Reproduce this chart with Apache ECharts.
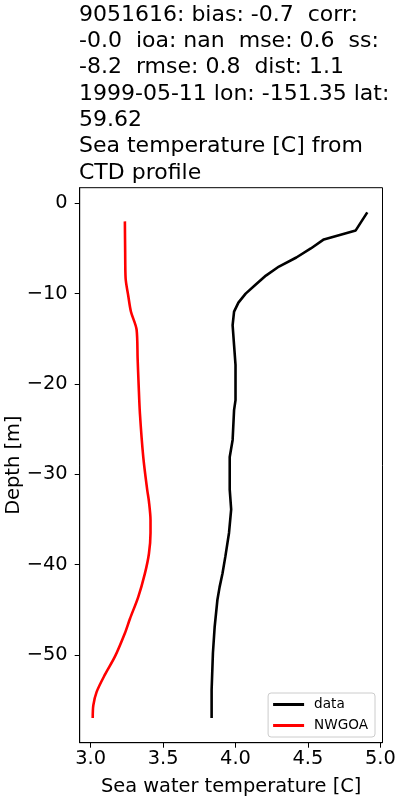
<!DOCTYPE html>
<html>
<head>
<meta charset="utf-8">
<script src="https://cdn.jsdelivr.net/npm/echarts@6/dist/echarts.min.js"></script>
<style>
html,body{margin:0;padding:0;background:#fff;}
#chart{width:400px;height:800px;}
</style>
</head>
<body>
<div id="chart"></div>
<script>
// Observed CTD profile ("data")
var dataDepth = [-1, -3, -4, -5, -6, -7, -8, -9, -10, -11, -12, -13.5, -15.7, -17.9, -20, -21.8, -22.9, -26.2, -28.1, -31.7, -33.9, -36.5, -39.1, -41, -42.5, -43.9, -46.9, -49.8, -53.9, -57];
var dataTemp  = [4.91, 4.83, 4.61, 4.52, 4.42, 4.30, 4.21, 4.14, 4.07, 4.02, 3.99, 3.98, 3.99, 4.00, 4.00, 4.00, 3.99, 3.98, 3.96, 3.96, 3.97, 3.955, 3.93, 3.91, 3.89, 3.875, 3.856, 3.844, 3.835, 3.835];
// Model profile ("NWGOA")
var modelDepth = [-2, -5.4, -8.3, -10.2, -12, -14, -17.2, -20.1, -23.3, -28.1, -31.7, -33, -35.1, -36.5, -38.8, -41, -43.6, -46, -47.6, -50.2, -52.2, -54.1, -55.6, -57];
var modelTemp  = [3.236, 3.238, 3.241, 3.259, 3.278, 3.317, 3.324, 3.331, 3.34, 3.363, 3.39, 3.402, 3.413, 3.413, 3.402, 3.374, 3.328, 3.271, 3.236, 3.167, 3.098, 3.041, 3.018, 3.014];

var xTicks = [3.0, 3.5, 4.0, 4.5, 5.0];
var yTicks = [0, -10, -20, -30, -40, -50];

var titleLines = [
  "9051616: bias: -0.7  corr:",
  "-0.0  ioa: nan  mse: 0.6  ss:",
  "-8.2  rmse: 0.8  dist: 1.1",
  "1999-05-11 lon: -151.35 lat:",
  "59.62",
  "Sea temperature [C] from",
  "CTD profile"
];

function pairs(xs, ys){ return xs.map(function(x,i){ return [x, ys[i]]; }); }
var FONT = "DejaVu Sans";

var chart = echarts.init(document.getElementById('chart'), null, {renderer:'canvas'});
chart.setOption({
  animation: false,
  backgroundColor: '#fff',
  textStyle: {fontFamily: FONT},
  title: {
    text: titleLines.join('\n'),
    left: 79, top: 2, padding: 0,
    textStyle: {fontFamily: FONT, fontSize: 22, fontWeight: 'normal', color: '#000', lineHeight: 26.3}
  },
  grid: {
    left: 79.7, top: 187.7, right: 17.5, bottom: 57.3,
    show: true, borderColor: '#000', borderWidth: 1, containLabel: false, outerBoundsMode: 'none'
  },
  legend: {
    orient: 'vertical', right: 25, bottom: 63,
    data: ['data', 'NWGOA'],
    icon: 'rect', itemWidth: 31, itemHeight: 3, itemGap: 6,
    padding: [4, 7, 4, 5],
    backgroundColor: 'rgba(255,255,255,0.8)',
    borderColor: '#cccccc', borderWidth: 1, borderRadius: 3,
    textStyle: {fontFamily: FONT, fontSize: 13.6, color: '#000', lineHeight: 15, padding: [0,0,0,5]}
  },
  xAxis: {
    type: 'value', min: 2.924, max: 5.015,
    name: 'Sea water temperature [C]', nameLocation: 'middle', nameGap: 35, nameMoveOverlap: false,
    nameTextStyle: {fontFamily: FONT, fontSize: 19.4, color: '#000'},
    axisLine: {show: true, onZero: false, lineStyle: {color: '#000', width: 1}},
    axisTick: {show: true, inside: false, length: 5, customValues: xTicks, lineStyle: {color: '#000'}},
    axisLabel: {show: true, customValues: xTicks, margin: 7, fontFamily: FONT, fontSize: 19.4, color: '#000',
      formatter: function(v){ return v.toFixed(1); }},
    splitLine: {show: false}
  },
  yAxis: {
    type: 'value', min: -59.73, max: 1.73,
    name: 'Depth [m]', nameLocation: 'middle', nameGap: 56, nameRotate: 90, nameMoveOverlap: false,
    nameTextStyle: {fontFamily: FONT, fontSize: 19.4, color: '#000'},
    axisLine: {show: true, onZero: false, lineStyle: {color: '#000', width: 1}},
    axisTick: {show: true, inside: false, length: 5, customValues: yTicks, lineStyle: {color: '#000'}},
    axisLabel: {show: true, customValues: yTicks, margin: 12, fontFamily: FONT, fontSize: 19.4, color: '#000',
      formatter: function(v){ return v < 0 ? '\u2212' + Math.abs(v) : String(v); }},
    splitLine: {show: false}
  },
  series: [
    {name: 'data', type: 'line', data: pairs(dataTemp, dataDepth), showSymbol: false, symbol: 'none',
     lineStyle: {color: '#000', width: 2.6}, itemStyle: {color: '#000'}},
    {name: 'NWGOA', type: 'line', data: pairs(modelTemp, modelDepth), showSymbol: false, symbol: 'none', smooth: 0.3,
     lineStyle: {color: '#ff0000', width: 2.6}, itemStyle: {color: '#ff0000'}}
  ]
});
</script>
</body>
</html>
